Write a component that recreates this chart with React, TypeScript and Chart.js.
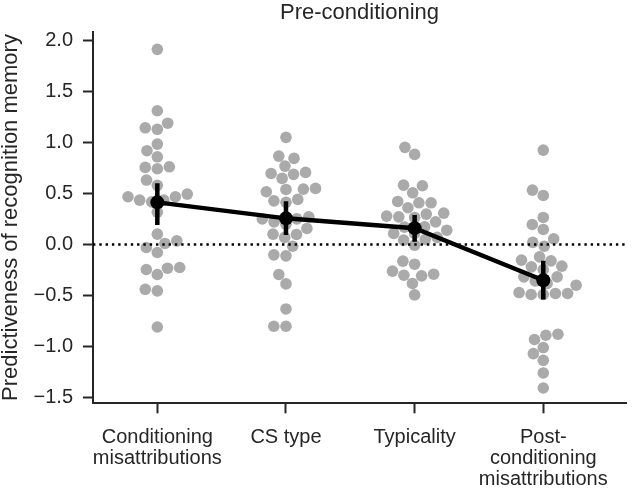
import React, { useEffect, useRef } from 'react';
import { Chart, registerables } from 'chart.js';

Chart.register(...registerables);

// ---- data ----
const categories: string[][] = [
  ['Conditioning', 'misattributions'],
  ['CS type'],
  ['Typicality'],
  ['Post-', 'conditioning', 'misattributions'],
];
const yTicks = [-1.5, -1.0, -0.5, 0.0, 0.5, 1.0, 1.5, 2.0];

const conditioningMisattributions = [
  1.915, 1.312, 1.145, 1.13, 1.19, 0.985, 0.92, 0.86, 0.756, 0.743, 0.762, 0.632,
  0.58, 0.468, 0.435, 0.418, 0.435, 0.468, 0.494, 0.317, 0.101, -0.03, -0.079,
  0.01, 0.035, -0.246, -0.295, -0.233, -0.226, -0.44, -0.456, -0.81,
];
const csType = [
  1.051, 0.845, 0.867, 0.769, 0.688, 0.648, 0.697, 0.707, 0.543, 0.517, 0.54, 0.55,
  0.413, 0.428, 0.442, 0.271, 0.251, 0.222, 0.157, 0.098, 0.069, 0.101, 0.251,
  0.199, -0.017, -0.102, -0.112, -0.295, -0.387, -0.633, -0.803, -0.803,
];
const typicality = [
  0.953, 0.884, 0.576, 0.582, 0.507, 0.422, 0.409, 0.409, 0.36, 0.307, 0.271, 0.265,
  0.298, 0.222, 0.278, 0.173, 0.108, 0.108, 0.069, 0.042, 0.049, -0.007, -0.194,
  -0.164, -0.262, -0.308, -0.302, -0.292, -0.383, -0.495, 0.17, 0.14,
];
const postConditioningMisattributions = [
  0.926, 0.533, 0.481, 0.265, 0.196, 0.147, 0.055, 0.02, -0.017, -0.122, -0.154,
  -0.161, -0.246, -0.22, -0.213, -0.318, -0.358, -0.4, -0.383, -0.318, -0.472,
  -0.491, -0.491, -0.481, -0.481, -0.891, -0.881, -0.933, -1.012, -1.071, -1.137,
  -1.261, -1.409,
];
const means = [0.413, 0.256, 0.16, -0.351];
const ciLow = [0.19, 0.092, 0.026, -0.54];
const ciHigh = [0.6, 0.425, 0.288, -0.16];

const series = [conditioningMisattributions, csType, typicality, postConditioningMisattributions];

// ---- style ----
const FONT = "'Liberation Sans', Arial, sans-serif";
const TEXT = '#262626';
const GRAY = '#aaaaaa';
const SWARM_R = 5.8;

// seaborn-like beeswarm in pixel space
function beeswarm(py: number[], cx: number, r: number): number[] {
  const order = py.map((_, i) => i).sort((a, b) => (py[b] - py[a]) || (a - b));
  const placed: { x: number; y: number }[] = [];
  const out: number[] = new Array(py.length);
  for (const i of order) {
    const y = py[i];
    const neighbors: { x: number; y: number }[] = [];
    for (let k = placed.length - 1; k >= 0; k--) {
      const p = placed[k];
      if (Math.abs(y - p.y) < 2 * r) neighbors.push(p);
      else break;
    }
    const cands: number[] = [cx];
    let leftFirst = true;
    for (const p of neighbors) {
      const dy = y - p.y;
      const dx = Math.sqrt(Math.max(4 * r * r - dy * dy, 0)) * 1.05;
      const cl = p.x - dx, cr = p.x + dx;
      if (leftFirst) cands.push(cl, cr);
      else cands.push(cr, cl);
      leftFirst = !leftFirst;
    }
    const sorted = cands
      .map((x, k) => ({ x, k }))
      .sort((a, b) => (Math.abs(a.x - cx) - Math.abs(b.x - cx)) || (a.k - b.k));
    let chosen = sorted[0].x;
    for (const c of sorted) {
      let ok = true;
      for (const p of neighbors) {
        const d2 = (p.x - c.x) ** 2 + (p.y - y) ** 2;
        if (d2 < 4 * r * r - 1e-6) { ok = false; break; }
      }
      if (ok) { chosen = c.x; break; }
    }
    placed.push({ x: chosen, y });
    out[i] = chosen;
  }
  return out;
}

export default function App() {
  const ref = useRef<HTMLCanvasElement | null>(null);

  useEffect(() => {
    document.body.style.margin = '0';
    const canvas = ref.current!;
    const swarmSets = series.map((vals, ci) => ({
      type: 'scatter' as const,
      data: vals.map((v) => ({ x: ci, y: v })),
      pointRadius: 5.8,
      pointBackgroundColor: GRAY,
      pointBorderWidth: 0,
      borderWidth: 0,
      order: 3,
    }));
    const errSets = means.map((_, i) => ({
      type: 'scatter' as const,
      data: [{ x: i, y: ciLow[i] }, { x: i, y: ciHigh[i] }],
      showLine: true,
      borderColor: '#000',
      borderWidth: 4.5,
      pointRadius: 0,
      order: 1,
    }));
    const zeroSet = {
      type: 'scatter' as const,
      data: [{ x: -0.5, y: 0 }, { x: 3.643, y: 0 }],
      showLine: true,
      borderColor: '#000',
      borderWidth: 2.4,
      borderDash: [2.4, 3.9],
      pointRadius: 0,
      order: 2,
    };
    const meanSet = {
      type: 'scatter' as const,
      data: means.map((m, i) => ({ x: i, y: m })),
      showLine: true,
      borderColor: '#000',
      borderWidth: 4.5,
      pointRadius: 7,
      pointBackgroundColor: '#000',
      pointBorderWidth: 0,
      order: 0,
    };

    const chart = new Chart(canvas, {
      type: 'scatter',
      data: { datasets: [...swarmSets, ...errSets, zeroSet, meanSet] as any },
      options: {
        animation: false,
        responsive: false,
        devicePixelRatio: 1,
        layout: { padding: { left: 0, right: 3, top: 0, bottom: 0 } },
        plugins: {
          legend: { display: false },
          tooltip: { enabled: false },
          title: {
            display: true,
            text: 'Pre-conditioning',
            fullSize: false,
            color: TEXT,
            font: { family: FONT, size: 22, weight: 'normal', lineHeight: 1.0 },
            padding: { top: 2, bottom: 7.7 },
          },
        },
        scales: {
          x: {
            type: 'linear',
            min: -0.5,
            max: 3.643,
            afterBuildTicks: (s: any) => {
              s.ticks = categories.map((_, i) => ({ value: i }));
            },
            afterFit: (s: any) => { s.height = 84.7; },
            ticks: {
              autoSkip: false,
              maxRotation: 0,
              minRotation: 0,
              padding: 14,
              color: TEXT,
              font: { family: FONT, size: 20, lineHeight: 1.04 },
              callback: (_v: any, i: number) => categories[i],
            },
            grid: {
              drawOnChartArea: false,
              tickLength: 10,
              tickWidth: 2,
              tickColor: TEXT,
              color: TEXT,
            },
            border: { display: true, color: TEXT, width: 2 },
          },
          y: {
            type: 'linear',
            min: -1.559,
            max: 2.088,
            afterBuildTicks: (s: any) => {
              s.ticks = yTicks.map((v) => ({ value: v }));
            },
            afterFit: (s: any) => { s.width = 93; },
            ticks: {
              padding: 10,
              color: TEXT,
              font: { family: FONT, size: 20 },
              callback: (v: any) => {
                const n = Number(v);
                const s = Math.abs(n).toFixed(1);
                return n < 0 ? '\u2212' + s : s;
              },
            },
            grid: {
              drawOnChartArea: false,
              tickLength: 10,
              tickWidth: 2,
              tickColor: TEXT,
              color: TEXT,
            },
            border: { display: true, color: TEXT, width: 2 },
            title: {
              display: true,
              text: 'Predictiveness of recognition memory',
              color: TEXT,
              font: { family: FONT, size: 22, lineHeight: 1.0 },
              padding: 0,
            },
          },
        },
      } as any,
    });

    // compute swarm layout in pixel space using the chart's scales
    const xs = chart.scales.x;
    const ys = chart.scales.y;
    series.forEach((vals, ci) => {
      const cx = xs.getPixelForValue(ci);
      const py = vals.map((v) => ys.getPixelForValue(v));
      const px = beeswarm(py, cx, SWARM_R);
      (chart.data.datasets[ci] as any).data = vals.map((v, i) => ({
        x: xs.getValueForPixel(px[i]),
        y: v,
      }));
    });
    chart.update('none');

    return () => chart.destroy();
  }, []);

  return (
    <div style={{ width: 633, height: 488 }}>
      <canvas ref={ref} width={633} height={488} style={{ display: 'block' }} />
    </div>
  );
}
